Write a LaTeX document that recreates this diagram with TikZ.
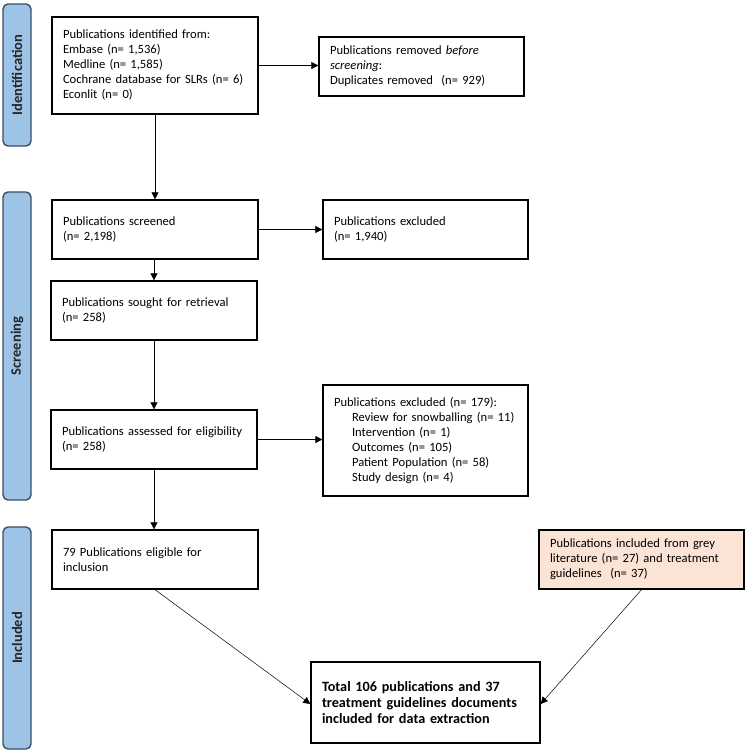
\documentclass[tikz,border=0pt]{standalone}
\usepackage{fontspec}
\setmainfont{Carlito}
\usetikzlibrary{arrows.meta}
\definecolor{barfill}{HTML}{9DC3E6}
\definecolor{barline}{HTML}{3A4F66}
\definecolor{peach}{HTML}{FBE3D6}
\tikzset{
  box/.style={draw=black, line width=1.3pt, rectangle, inner sep=0pt, align=left,
    font=\fontsize{12.6}{15}\selectfont},
  bar/.style={draw=barline, line width=1.4pt, fill=barfill, rounded corners=5pt},
  barlabel/.style={rotate=90, font=\fontsize{14.5}{16}\selectfont\bfseries, text=black!85},
  arr/.style={-{Triangle[length=7pt,width=7pt]}, line width=0.6pt}
}
\begin{document}
\begin{tikzpicture}[x=1pt,y=-1pt]
\useasboundingbox (0,0) rectangle (746,752);
% side bars
\draw[bar] (3,4) rectangle (31,146);
\node[barlabel] (lid) at (17,75) {Identification};
\draw[bar] (3,192) rectangle (31,500);
\node[barlabel] (lsc) at (17,346) {Screening};
\draw[bar] (3,527) rectangle (31,749);
\node[barlabel] (lin) at (17,638) {Included};
% boxes
\node[box, minimum width=206pt, minimum height=97pt, text width=184pt] (b1) at (155,65.5)
  {Publications identified from:\\Embase (n= 1,536)\\Medline (n= 1,585)\\Cochrane database for SLRs (n=~6)\\Econlit (n= 0)};
\node[box, minimum width=205pt, minimum height=59pt, text width=183pt] (rm) at (421.5,66.5)
  {Publications removed \emph{before}\\\emph{screening}:\\Duplicates removed\ \ (n= 929)};
\node[box, minimum width=206pt, minimum height=59pt, text width=184pt] (sc) at (155,229.5)
  {Publications screened\\(n= 2,198)};
\node[box, minimum width=205pt, minimum height=59pt, text width=183pt] (ex1) at (425.5,229.5)
  {Publications excluded\\(n= 1,940)};
\node[box, minimum width=206pt, minimum height=59pt, text width=184pt] (so) at (154,310.5)
  {Publications sought for retrieval\\(n= 258)};
\node[box, minimum width=206pt, minimum height=59pt, text width=184pt] (as) at (154,439.5)
  {\mbox{Publications assessed for eligibility}\\(n= 258)};
\node[box, minimum width=205pt, minimum height=111pt, text width=183pt] (ex2) at (425.5,440.5)
  {Publications excluded (n= 179):\\
   \hspace*{18pt}\mbox{Review for snowballing (n= 11)}\\
   \hspace*{18pt}Intervention (n= 1)\\
   \hspace*{18pt}Outcomes (n= 105)\\
   \hspace*{18pt}Patient Population (n= 58)\\
   \hspace*{18pt}Study design (n= 4)};
\node[box, minimum width=206pt, minimum height=59pt, text width=184pt] (el) at (155,559.5)
  {79 Publications eligible for\\inclusion};
\node[box, fill=peach, minimum width=205pt, minimum height=59pt, text width=183pt] (gr) at (641.5,559.5)
  {Publications included from grey\\literature (n= 27) and treatment\\guidelines\ \ (n= 37)};
\node[box, minimum width=229pt, minimum height=81pt, text width=207pt,
  font=\fontsize{14.2}{16}\selectfont\bfseries] (tot) at (425.5,702.5)
  {Total 106 publications and 37\\treatment guidelines documents\\included for data extraction};
% connectors
\draw[arr] (b1.east) -- (rm.west |- b1.east);
\draw[arr] (b1.south) -- (b1.south |- sc.north);
\draw[arr] (sc.east) -- (ex1.west);
\draw[arr] (sc.south -| so.south) -- (so.north);
\draw[arr] (so.south) -- (as.north);
\draw[arr] (as.east) -- (as.east -| ex2.west);
\draw[arr] (as.south) -- (as.south |- el.north);
\coordinate (tw) at ([yshift=-1.5pt]tot.west);
\coordinate (te) at ([yshift=-1.5pt]tot.east);
\draw[arr, line width=0.5pt] (el.south) -- (tw);
\draw[arr, line width=0.5pt] (gr.south) -- (te);
\end{tikzpicture}
\end{document}
